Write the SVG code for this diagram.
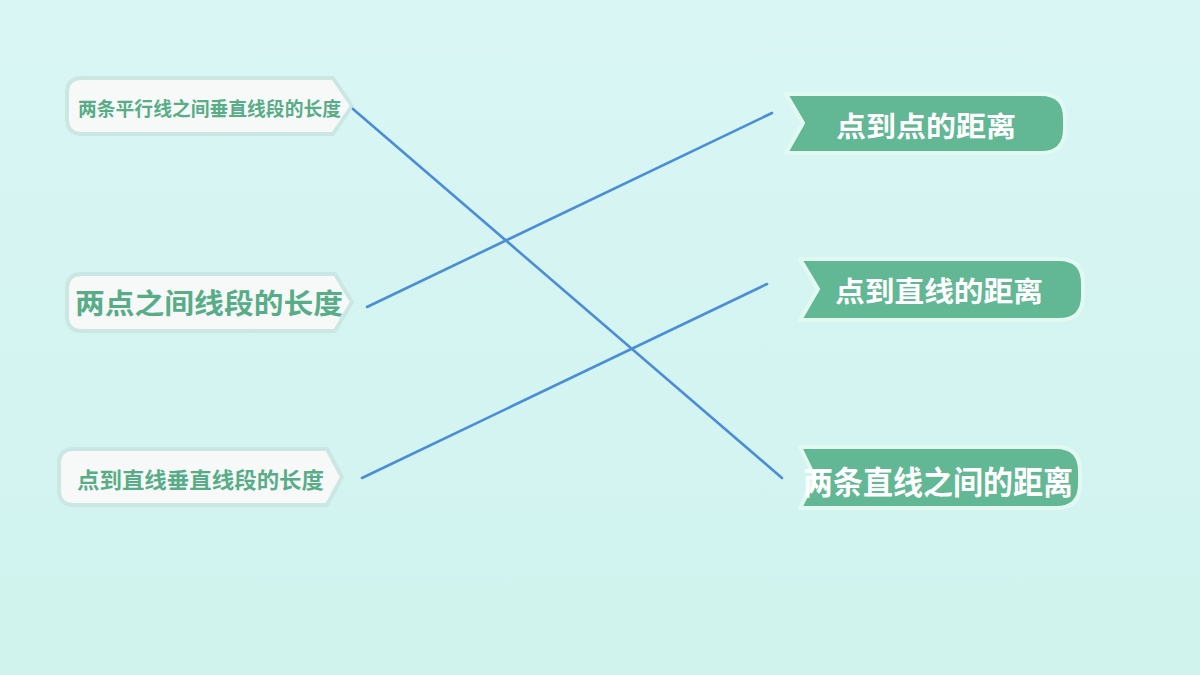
<svg xmlns="http://www.w3.org/2000/svg" width="1200" height="675" viewBox="0 0 1200 675">
<defs>
<linearGradient id="bg" x1="0" y1="0" x2="0" y2="1">
<stop offset="0" stop-color="#d9f6f4"/>
<stop offset="1" stop-color="#d0f3ee"/>
</linearGradient>
<style>
.ln{fill:#f7f9f9;stroke:#cbe7e3;stroke-width:4;stroke-linejoin:round}
.rn{fill:#62b794;stroke:#e2f9f2;stroke-width:4;stroke-linejoin:round}
.lt{font-family:"Noto Sans CJK SC","Noto Sans",sans-serif;font-weight:bold;fill:#58ad88;dominant-baseline:central}
.rt{font-family:"Noto Sans CJK SC","Noto Sans",sans-serif;font-weight:bold;fill:#ffffff;dominant-baseline:central}
.cn{stroke:#4b8dd6;stroke-width:2.6;stroke-linecap:round;fill:none}
</style>
</defs>
<rect width="1200" height="675" fill="url(#bg)"/>
<g id="left1">
<path class="ln" d="M82,78 H333 L352,106 L333,134 H82 Q67,134 67,119 V93 Q67,78 82,78 Z"/>
<text class="lt" x="78" y="107" font-size="19" textLength="263" lengthAdjust="spacingAndGlyphs">两条平行线之间垂直线段的长度</text>
</g>
<g id="left2">
<path class="ln" d="M82,274 H335 L352,302 L335,331 H82 Q67,331 67,316 V289 Q67,274 82,274 Z"/>
<text class="lt" x="75" y="302" font-size="28" textLength="268" lengthAdjust="spacingAndGlyphs">两点之间线段的长度</text>
</g>
<g id="left3">
<path class="ln" d="M74,449 H327 L342,477 L327,505 H74 Q59,505 59,490 V464 Q59,449 74,449 Z"/>
<text class="lt" x="77" y="478" font-size="21.5" textLength="247" lengthAdjust="spacingAndGlyphs">点到直线垂直线段的长度</text>
</g>
<g id="right1">
<path class="rn" d="M786,94 H1041 Q1065,94 1065,118 V129 Q1065,153 1041,153 H786 L803,123 Z"/>
<text class="rt" x="836" y="124" font-size="28.5" textLength="180" lengthAdjust="spacingAndGlyphs">点到点的距离</text>
</g>
<g id="right2">
<path class="rn" d="M800,259 H1059 Q1083,259 1083,283 V296 Q1083,320 1059,320 H800 L818,289 Z"/>
<text class="rt" x="835" y="290" font-size="28" textLength="208" lengthAdjust="spacingAndGlyphs">点到直线的距离</text>
</g>
<g id="right3">
<path class="rn" d="M800,447 H1056 Q1080,447 1080,471 V484 Q1080,508 1056,508 H800 L815,478 Z"/>
<text class="rt" x="803" y="480" font-size="31.5" textLength="270" lengthAdjust="spacingAndGlyphs">两条直线之间的距离</text>
</g>
<g id="connectors">
<line class="cn" x1="353" y1="109" x2="782" y2="478"/>
<line class="cn" x1="367" y1="307" x2="772" y2="113"/>
<line class="cn" x1="362" y1="478" x2="767" y2="284"/>
</g>
</svg>
